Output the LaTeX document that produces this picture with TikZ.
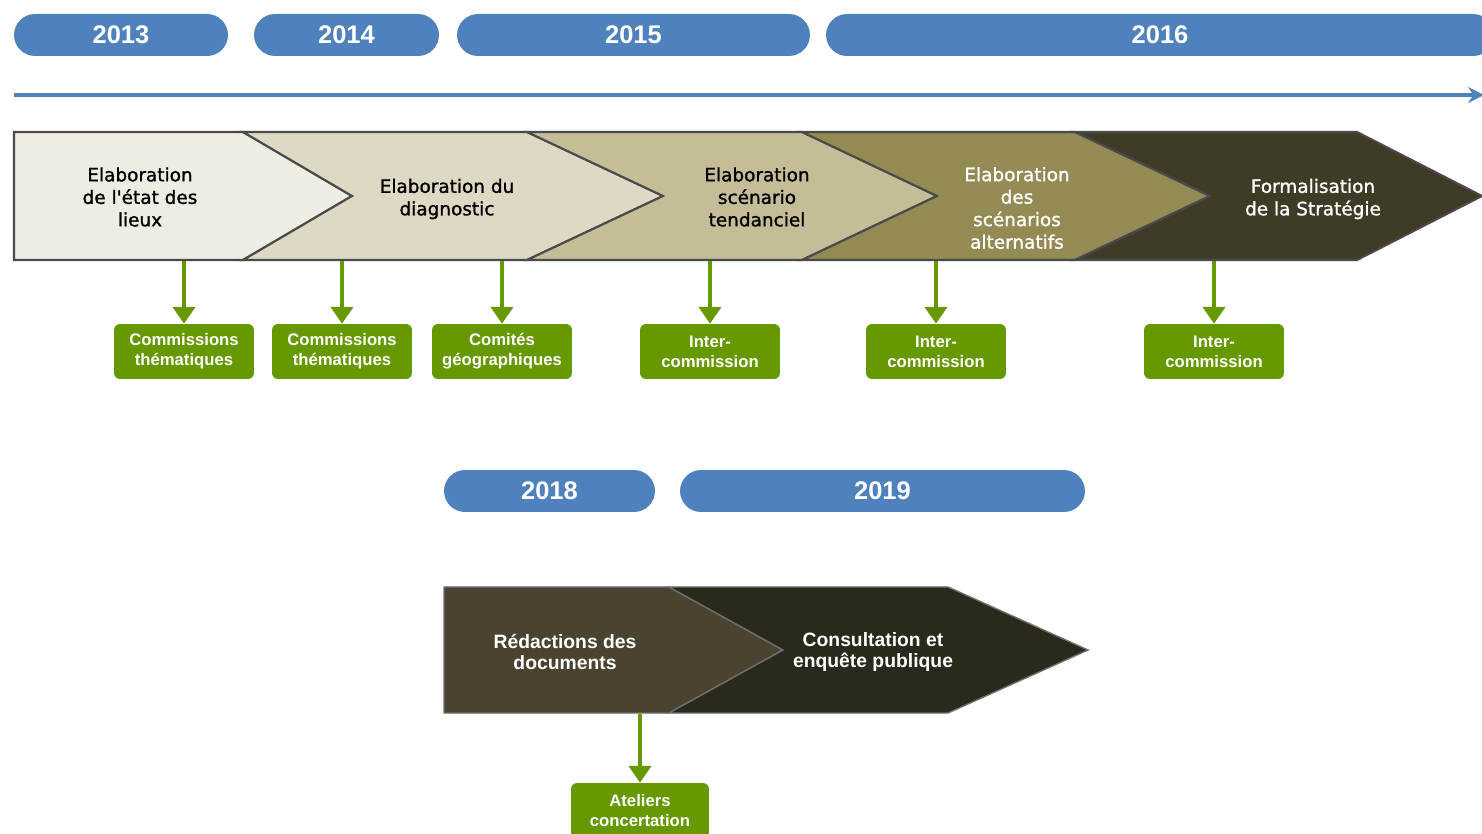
\documentclass[tikz,border=0pt]{standalone}
\usepackage{fontspec}
\setmainfont{Liberation Sans}
\newfontfamily\bandfont[FakeBold=1.2]{DejaVu Sans}
\usepackage{xcolor}
\usepackage{tikz}
\usetikzlibrary{arrows.meta}
\definecolor{yearblue}{HTML}{4F81BD}
\definecolor{greenbox}{HTML}{669900}
\definecolor{bandone}{HTML}{EEECE3}
\definecolor{bandtwo}{HTML}{DDD9C4}
\definecolor{bandthree}{HTML}{C4BD97}
\definecolor{bandfour}{HTML}{948A54}
\definecolor{bandfive}{HTML}{3E3B27}
\definecolor{lowone}{HTML}{4A4330}
\definecolor{lowtwo}{HTML}{2A291B}
\definecolor{bandline}{HTML}{4A4A4A}
\tikzset{
	% The years on top of the phases
	year/.style={
		fill=yearblue,rectangle,rounded corners=0.42cm,inner sep=0pt,
		minimum height=0.84cm,text=white,font=\fontsize{14.5}{17}\selectfont\bfseries
	},
	% The arrowed phases of the band
	phase/.style={
		draw=bandline,line width=1.2pt,line join=miter
	},
	% The texts written in the band
	phase_text/.style={
		align=center,inner sep=0pt,font=\bandfont\fontsize{10.5}{12.8}\selectfont
	},
	% The texts written in the lower band
	low_text/.style={
		align=center,inner sep=0pt,text=white,font=\fontsize{11}{12.5}\selectfont\bfseries
	},
	% The meetings held during a phase
	meeting/.style={
		fill=greenbox,rectangle,rounded corners=0.12cm,inner sep=0pt,
		minimum width=2.8cm,minimum height=1.1cm,align=center,
		text=white,font=\fontsize{9.5}{11.3}\selectfont\bfseries
	},
	% The arrows down to the meetings
	meeting_arrow/.style={
		draw=greenbox,line width=2.1pt,-{Triangle[width=12.5pt,length=9.5pt]}
	},
}
\begin{document}
\begin{tikzpicture}[x=0.02cm,y=-0.02cm]
		\useasboundingbox (0,0) rectangle (1482,834);
		\clip (0,0) rectangle (1482,834);

		% Years
		\node [year,minimum width=4.28cm] (Year 2013) at (121,35) {2013};
		\node [year,minimum width=3.7cm] (Year 2014) at (346.5,35) {2014};
		\node [year,minimum width=7.06cm] (Year 2015) at (633.5,35) {2015};
		\node [year,minimum width=13.36cm] (Year 2016) at (1160,35) {2016};

		% Time line
		\coordinate (Time start) at (14,95);
		\coordinate (Time end) at (1484,95);
		\draw [yearblue,line width=2pt,-{Stealth[length=9pt,width=9pt]}] (Time start) -- (Time end);

		% Phases
		\filldraw [phase,fill=bandone] (14,132) -- (243,132) -- (352,196) -- (243,260) -- (14,260) -- cycle;
		\filldraw [phase,fill=bandtwo] (243,132) -- (527,132) -- (663,196) -- (527,260) -- (243,260) -- (352,196) -- cycle;
		\filldraw [phase,fill=bandthree] (527,132) -- (802,132) -- (937,196) -- (802,260) -- (527,260) -- (663,196) -- cycle;
		\filldraw [phase,fill=bandfour] (802,132) -- (1075,132) -- (1210,196) -- (1075,260) -- (802,260) -- (937,196) -- cycle;
		\filldraw [phase,fill=bandfive] (1075,132) -- (1357,132) -- (1482,196) -- (1357,260) -- (1075,260) -- (1210,196) -- cycle;

		\node [phase_text] (Etat des lieux) at (140,197) {Elaboration\\de l'état des\\lieux};
		\node [phase_text] (Diagnostic) at (447,199) {Elaboration du\\diagnostic};
		\node [phase_text] (Tendanciel) at (757,197) {Elaboration\\scénario\\tendanciel};
		\node [phase_text,text=white] (Alternatifs) at (1017,208) {Elaboration\\des\\scénarios\\alternatifs};
		\node [phase_text,text=white] (Strategie) at (1313,199) {Formalisation\\de la Stratégie};

		% Meetings
		\node [meeting] (Commissions 1) at (184,351.5) {Commissions\\thématiques};
		\node [meeting] (Commissions 2) at (342,351.5) {Commissions\\thématiques};
		\node [meeting] (Comites) at (502,351.5) {Comités\\géographiques};
		\node [meeting] (Inter 1) at (710,351.5) {Inter-\\commission};
		\node [meeting] (Inter 2) at (936,351.5) {Inter-\\commission};
		\node [meeting] (Inter 3) at (1214,351.5) {Inter-\\commission};

		\coordinate (Out 1) at (184,261);
		\coordinate (Out 2) at (342,261);
		\coordinate (Out 3) at (502,261);
		\coordinate (Out 4) at (710,261);
		\coordinate (Out 5) at (936,261);
		\coordinate (Out 6) at (1214,261);
		\draw [meeting_arrow] (Out 1) -- (Commissions 1);
		\draw [meeting_arrow] (Out 2) -- (Commissions 2);
		\draw [meeting_arrow] (Out 3) -- (Comites);
		\draw [meeting_arrow] (Out 4) -- (Inter 1);
		\draw [meeting_arrow] (Out 5) -- (Inter 2);
		\draw [meeting_arrow] (Out 6) -- (Inter 3);

		% Later years
		\node [year,minimum width=4.22cm] (Year 2018) at (549.5,491) {2018};
		\node [year,minimum width=8.1cm] (Year 2019) at (882.5,491) {2019};

		% Later phases
		\filldraw [phase,draw=bandline!80,line width=0.8pt,fill=lowone] (444,587) -- (669,587) -- (783,650) -- (669,713) -- (444,713) -- cycle;
		\filldraw [phase,draw=bandline!80,line width=0.8pt,fill=lowtwo] (669,587) -- (948,587) -- (1088,650) -- (948,713) -- (669,713) -- (783,650) -- cycle;

		\node [low_text] (Redactions) at (565,652) {Rédactions des\\documents};
		\node [low_text] (Consultation) at (873,652) {Consultation et\\enquête publique};

		\node [meeting,minimum width=2.76cm] (Ateliers) at (640,810.5) {Ateliers\\concertation};
		\coordinate (Out 7) at (640,714);
		\draw [meeting_arrow] (Out 7) -- (Ateliers);
	\end{tikzpicture}
\end{document}
